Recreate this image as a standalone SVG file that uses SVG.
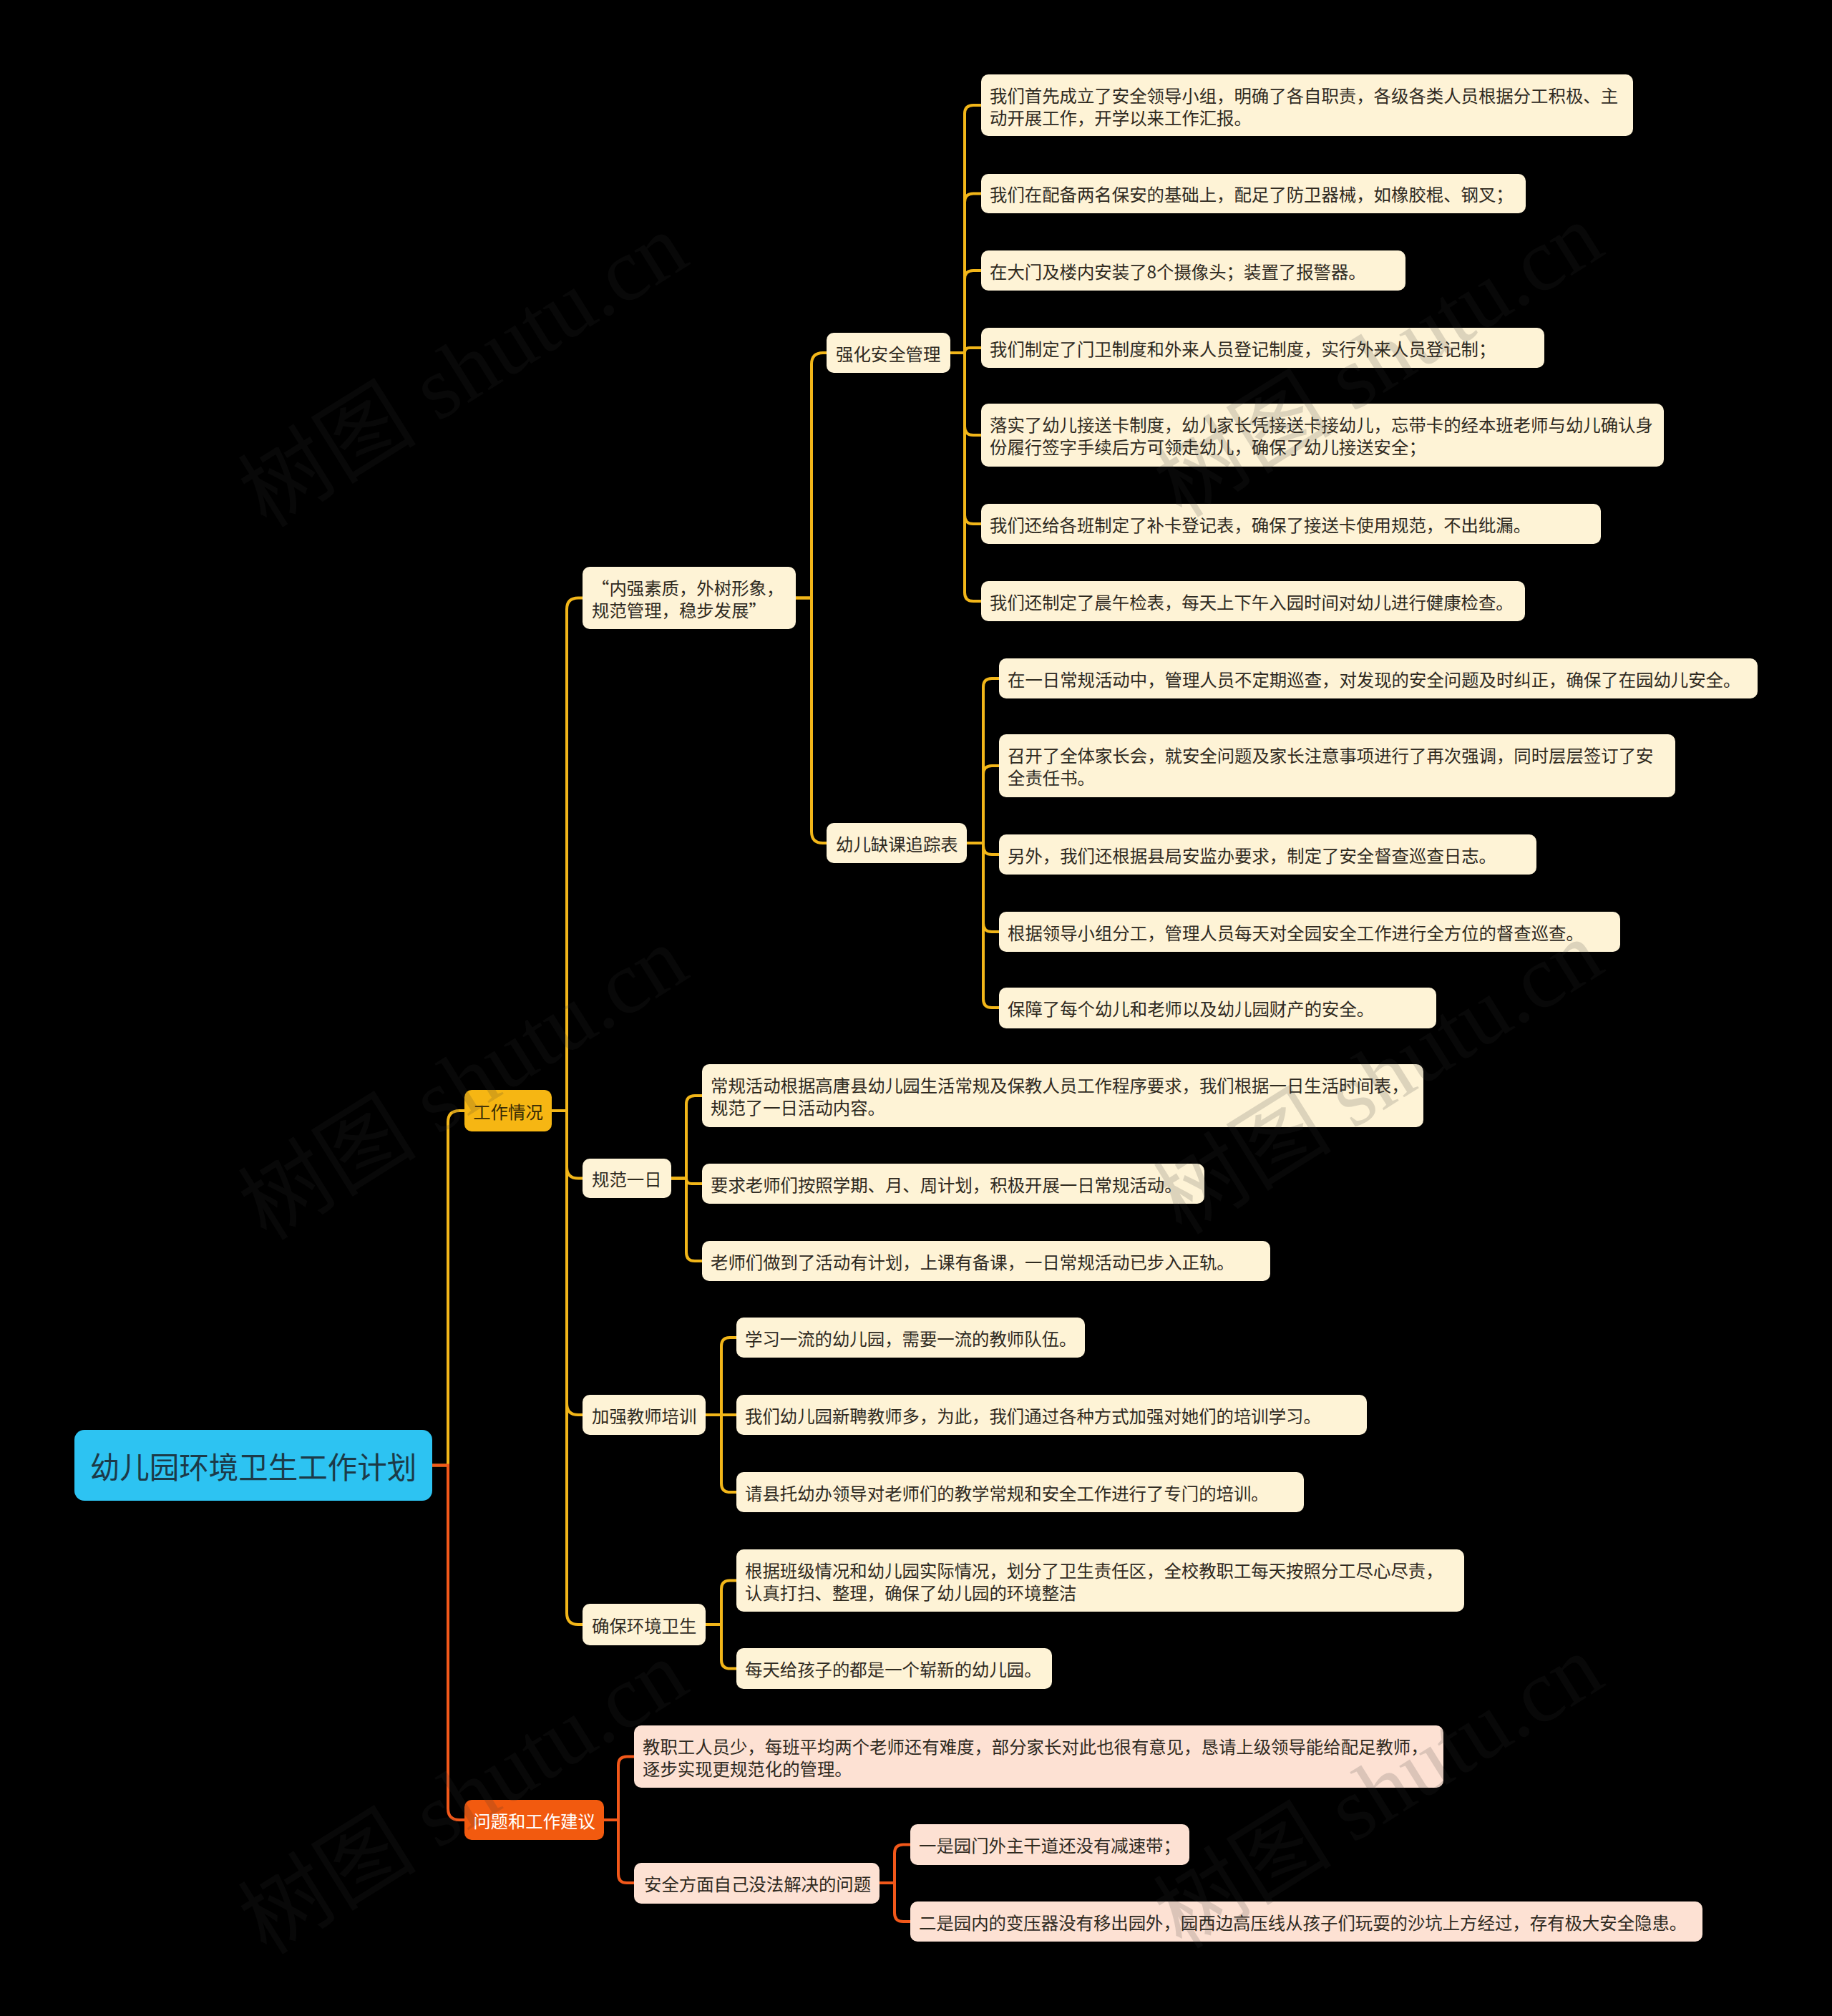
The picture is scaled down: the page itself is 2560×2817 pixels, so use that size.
<svg xmlns="http://www.w3.org/2000/svg" width="2560" height="2817" viewBox="0 0 2560 2817">
<style>
text{font-family:"Noto Sans CJK SC","Noto Sans",sans-serif;font-size:24.4px;fill:#2F2A1F;dominant-baseline:central}
.c rect{fill:#FEF3D6}
.p rect{fill:#FDE1D3}
.cy{fill:none;stroke:#F2B619;stroke-width:4;stroke-linecap:round}
.co{fill:none;stroke:#F2581A;stroke-width:4;stroke-linecap:round}
.wm{font-family:"Liberation Serif","Noto Sans CJK SC",serif;font-size:125px;fill:#333;opacity:0.16;text-anchor:middle;dominant-baseline:auto}
</style>
<rect x="0" y="0" width="2560" height="2817" fill="#000"/>

<g id="connectors">
  <path class="cy" d="M604 2047.5 H626 V1568 Q626 1552 642 1552 H649"/>
  <path class="cy" d="M771 1552 H792 V851.5 Q792 835.5 808 835.5 H814"/>
  <path class="cy" d="M771 1552 H792 V1630.5 Q792 1646.5 808 1646.5 H814"/>
  <path class="cy" d="M771 1552 H792 V1961 Q792 1977 808 1977 H814"/>
  <path class="cy" d="M771 1552 H792 V2254 Q792 2270 808 2270 H814"/>
  <path class="cy" d="M1112 835.5 H1134 V509 Q1134 493 1150 493 H1155"/>
  <path class="cy" d="M1112 835.5 H1134 V1162 Q1134 1178 1150 1178 H1155"/>
  <path class="cy" d="M1328 493 H1348 V159 Q1348 147 1360 147 H1371"/>
  <path class="cy" d="M1328 493 H1348 V282.5 Q1348 270.5 1360 270.5 H1371"/>
  <path class="cy" d="M1328 493 H1348 V390 Q1348 378 1360 378 H1371"/>
  <path class="cy" d="M1328 493 H1348 Q1348 486 1355 486 H1371"/>
  <path class="cy" d="M1328 493 H1348 V596 Q1348 608 1360 608 H1371"/>
  <path class="cy" d="M1328 493 H1348 V720 Q1348 732 1360 732 H1371"/>
  <path class="cy" d="M1328 493 H1348 V828 Q1348 840 1360 840 H1371"/>
  <path class="cy" d="M1351 1178 H1374 V960 Q1374 948 1386 948 H1396"/>
  <path class="cy" d="M1351 1178 H1374 V1082 Q1374 1070 1386 1070 H1396"/>
  <path class="cy" d="M1351 1178 H1374 V1182 Q1374 1194 1386 1194 H1396"/>
  <path class="cy" d="M1351 1178 H1374 V1290 Q1374 1302 1386 1302 H1396"/>
  <path class="cy" d="M1351 1178 H1374 V1396 Q1374 1408 1386 1408 H1396"/>
  <path class="cy" d="M938 1646.5 H959 V1543 Q959 1531 971 1531 H981"/>
  <path class="cy" d="M938 1646.5 H959 Q959 1654 966.5 1654 H981"/>
  <path class="cy" d="M938 1646.5 H959 V1750 Q959 1762 971 1762 H981"/>
  <path class="cy" d="M986 1977 H1008 V1881 Q1008 1869 1020 1869 H1029"/>
  <path class="cy" d="M986 1977 H1029"/>
  <path class="cy" d="M986 1977 H1008 V2073 Q1008 2085 1020 2085 H1029"/>
  <path class="cy" d="M986 2270 H1008 V2220.5 Q1008 2208.5 1020 2208.5 H1029"/>
  <path class="cy" d="M986 2270 H1008 V2319.5 Q1008 2331.5 1020 2331.5 H1029"/>
  <path class="co" d="M604 2047.5 H626 V2527 Q626 2543 642 2543 H649"/>
  <path class="co" d="M844 2543 H864 V2466.5 Q864 2454.5 876 2454.5 H886"/>
  <path class="co" d="M844 2543 H864 V2619 Q864 2631 876 2631 H886"/>
  <path class="co" d="M1229 2631 H1250 V2589.5 Q1250 2577.5 1262 2577.5 H1272"/>
  <path class="co" d="M1229 2631 H1250 V2673 Q1250 2685 1262 2685 H1272"/>
</g>

<g id="root"><rect x="104" y="1998" width="500" height="99" rx="14" fill="#2DC3F2"/><text x="354" y="2047.5" style="font-size:41.5px;fill:#1C3A48;text-anchor:middle">幼儿园环境卫生工作计划</text></g>

<g id="n-work"><rect x="649" y="1523" width="122" height="58" rx="10" fill="#F6B613"/><text x="710" y="1552" style="text-anchor:middle;fill:#3A2C05">工作情况</text></g>
<g id="n-issue"><rect x="649" y="2515" width="195" height="56" rx="10" fill="#F25A0F"/><text x="746.5" y="2543" style="text-anchor:middle;fill:#FFFFFF">问题和工作建议</text></g>

<g id="n-neiqiang" class="c"><rect x="814" y="792" width="298" height="87" rx="10"/><text x="827" y="820">“内强素质，外树形象，</text><text x="827" y="851">规范管理，稳步发展”</text></g>
<g id="n-guifan" class="c"><rect x="814" y="1619" width="124" height="55" rx="10"/><text x="827" y="1646.5">规范一日</text></g>
<g id="n-jiaqiang" class="c"><rect x="814" y="1949" width="172" height="56" rx="10"/><text x="827" y="1977">加强教师培训</text></g>
<g id="n-queba" class="c"><rect x="814" y="2241" width="172" height="58" rx="10"/><text x="827" y="2270">确保环境卫生</text></g>

<g id="n-qianghua" class="c"><rect x="1155" y="465" width="173" height="56" rx="10"/><text x="1168" y="493">强化安全管理</text></g>
<g id="n-youer" class="c"><rect x="1155" y="1150" width="196" height="56" rx="10"/><text x="1168" y="1178">幼儿缺课追踪表</text></g>

<g id="leaf-a1" class="c"><rect x="1371" y="104" width="911" height="86" rx="10"/><text x="1383" y="132">我们首先成立了安全领导小组，明确了各自职责，各级各类人员根据分工积极、主</text><text x="1383" y="163">动开展工作，开学以来工作汇报。</text></g>
<g id="leaf-a2" class="c"><rect x="1371" y="243" width="761" height="55" rx="10"/><text x="1383" y="270.5">我们在配备两名保安的基础上，配足了防卫器械，如橡胶棍、钢叉；</text></g>
<g id="leaf-a3" class="c"><rect x="1371" y="350" width="593" height="56" rx="10"/><text x="1383" y="378">在大门及楼内安装了8个摄像头；装置了报警器。</text></g>
<g id="leaf-a4" class="c"><rect x="1371" y="458" width="787" height="56" rx="10"/><text x="1383" y="486">我们制定了门卫制度和外来人员登记制度，实行外来人员登记制；</text></g>
<g id="leaf-a5" class="c"><rect x="1371" y="564" width="954" height="88" rx="10"/><text x="1383" y="592.5">落实了幼儿接送卡制度，幼儿家长凭接送卡接幼儿，忘带卡的经本班老师与幼儿确认身</text><text x="1383" y="623.5">份履行签字手续后方可领走幼儿，确保了幼儿接送安全；</text></g>
<g id="leaf-a6" class="c"><rect x="1371" y="704" width="866" height="56" rx="10"/><text x="1383" y="732">我们还给各班制定了补卡登记表，确保了接送卡使用规范，不出纰漏。</text></g>
<g id="leaf-a7" class="c"><rect x="1371" y="812" width="760" height="56" rx="10"/><text x="1383" y="840">我们还制定了晨午检表，每天上下午入园时间对幼儿进行健康检查。</text></g>

<g id="leaf-b1" class="c"><rect x="1396" y="920" width="1060" height="56" rx="10"/><text x="1408" y="948">在一日常规活动中，管理人员不定期巡查，对发现的安全问题及时纠正，确保了在园幼儿安全。</text></g>
<g id="leaf-b2" class="c"><rect x="1396" y="1026" width="945" height="88" rx="10"/><text x="1408" y="1054.5">召开了全体家长会，就安全问题及家长注意事项进行了再次强调，同时层层签订了安</text><text x="1408" y="1085.5">全责任书。</text></g>
<g id="leaf-b3" class="c"><rect x="1396" y="1166" width="751" height="56" rx="10"/><text x="1408" y="1194">另外，我们还根据县局安监办要求，制定了安全督查巡查日志。</text></g>
<g id="leaf-b4" class="c"><rect x="1396" y="1274" width="868" height="56" rx="10"/><text x="1408" y="1302">根据领导小组分工，管理人员每天对全园安全工作进行全方位的督查巡查。</text></g>
<g id="leaf-b5" class="c"><rect x="1396" y="1380" width="611" height="57" rx="10"/><text x="1408" y="1408">保障了每个幼儿和老师以及幼儿园财产的安全。</text></g>

<g id="leaf-c1" class="c"><rect x="981" y="1487" width="1008" height="88" rx="10"/><text x="993" y="1515.5">常规活动根据高唐县幼儿园生活常规及保教人员工作程序要求，我们根据一日生活时间表，</text><text x="993" y="1546.5">规范了一日活动内容。</text></g>
<g id="leaf-c2" class="c"><rect x="981" y="1626" width="702" height="56" rx="10"/><text x="993" y="1654">要求老师们按照学期、月、周计划，积极开展一日常规活动。</text></g>
<g id="leaf-c3" class="c"><rect x="981" y="1734" width="794" height="56" rx="10"/><text x="993" y="1762">老师们做到了活动有计划，上课有备课，一日常规活动已步入正轨。</text></g>

<g id="leaf-d1" class="c"><rect x="1029" y="1841" width="487" height="56" rx="10"/><text x="1041" y="1869">学习一流的幼儿园，需要一流的教师队伍。</text></g>
<g id="leaf-d2" class="c"><rect x="1029" y="1949" width="881" height="56" rx="10"/><text x="1041" y="1977">我们幼儿园新聘教师多，为此，我们通过各种方式加强对她们的培训学习。</text></g>
<g id="leaf-d3" class="c"><rect x="1029" y="2057" width="793" height="56" rx="10"/><text x="1041" y="2085">请县托幼办领导对老师们的教学常规和安全工作进行了专门的培训。</text></g>

<g id="leaf-e1" class="c"><rect x="1029" y="2165" width="1017" height="87" rx="10"/><text x="1041" y="2193">根据班级情况和幼儿园实际情况，划分了卫生责任区，全校教职工每天按照分工尽心尽责，</text><text x="1041" y="2224">认真打扫、整理，确保了幼儿园的环境整洁</text></g>
<g id="leaf-e2" class="c"><rect x="1029" y="2303" width="441" height="57" rx="10"/><text x="1041" y="2331.5">每天给孩子的都是一个崭新的幼儿园。</text></g>

<g id="leaf-f1" class="p"><rect x="886" y="2411" width="1131" height="87" rx="10"/><text x="898" y="2439">教职工人员少，每班平均两个老师还有难度，部分家长对此也很有意见，恳请上级领导能给配足教师，</text><text x="898" y="2470">逐步实现更规范化的管理。</text></g>
<g id="n-anquan" class="p"><rect x="886" y="2603" width="343" height="57" rx="10"/><text x="900" y="2631.5">安全方面自己没法解决的问题</text></g>
<g id="leaf-f2" class="p"><rect x="1272" y="2549" width="390" height="57" rx="10"/><text x="1284" y="2577.5">一是园门外主干道还没有减速带；</text></g>
<g id="leaf-f3" class="p"><rect x="1272" y="2657" width="1107" height="56" rx="10"/><text x="1284" y="2685">二是园内的变压器没有移出园外，园西边高压线从孩子们玩耍的沙坑上方经过，存有极大安全隐患。</text></g>

<g id="watermarks">
  <text class="wm" x="647" y="560" transform="rotate(-32 647 517)">树图 shutu.cn</text>
  <text class="wm" x="1926" y="546" transform="rotate(-32 1926 503)">树图 shutu.cn</text>
  <text class="wm" x="647" y="1556" transform="rotate(-32 647 1513)">树图 shutu.cn</text>
  <text class="wm" x="1926" y="1548" transform="rotate(-32 1926 1505)">树图 shutu.cn</text>
  <text class="wm" x="647" y="2554" transform="rotate(-32 647 2511)">树图 shutu.cn</text>
  <text class="wm" x="1926" y="2546" transform="rotate(-32 1926 2503)">树图 shutu.cn</text>
</g>
</svg>
